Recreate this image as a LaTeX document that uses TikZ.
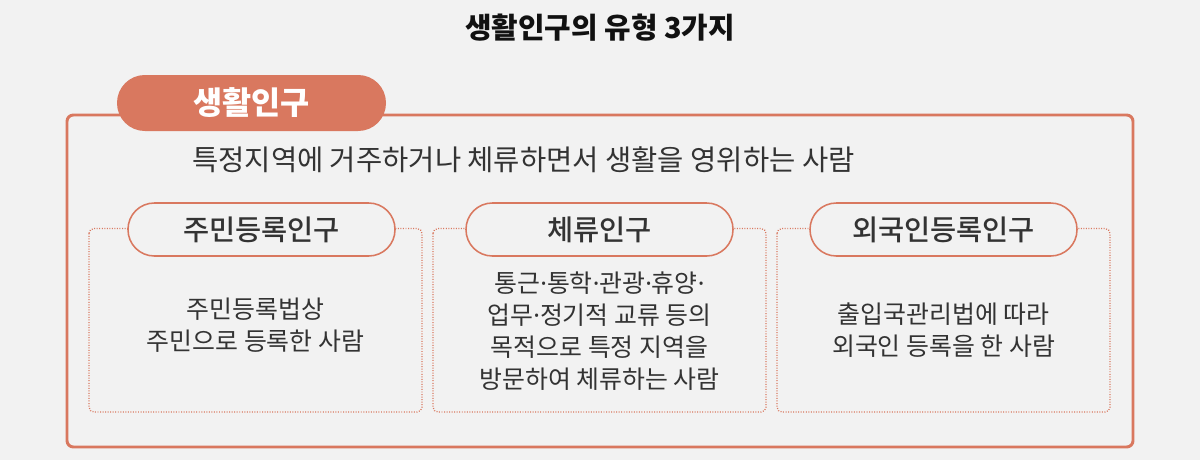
\documentclass[tikz,border=0pt]{standalone}
\usepackage{fontspec}
\setmainfont{Noto Sans CJK KR}
\newfontfamily\krmed{Noto Sans CJK KR Medium}
\newfontfamily\latin{Noto Sans}
\usepackage{xcolor}
\definecolor{lpcoral}{RGB}{217,120,95}
\definecolor{lpbg}{RGB}{242,242,242}
\definecolor{lptext}{RGB}{51,51,51}
\definecolor{lptitle}{RGB}{17,17,17}
\usetikzlibrary{positioning}
\newcommand{\md}{{\latin ·}}

\begin{document}
\begin{tikzpicture}[x=0.025cm, y=-0.025cm,
  tab/.style={fill=lpcoral, rounded corners=19.8pt, minimum width=269*0.025cm,
    minimum height=56*0.025cm, inner sep=0pt, text=white,
    font=\bfseries\fontsize{22.5}{22.5}\selectfont},
  pill/.style={draw=lpcoral, line width=1.1pt, fill=lpbg, rounded corners=18.7pt,
    minimum width=267*0.025cm, minimum height=53*0.025cm, inner sep=0pt,
    text=lptext, font=\krmed\fontsize{20.2}{20.2}\selectfont},
  dotbox/.style={draw=lpcoral, line width=0.9pt, dash pattern=on 0.7pt off 1.1pt,
    rounded corners=3.5pt},
  desc/.style={align=center, text=lptext, inner sep=0pt,
    font=\fontsize{17.7}{22.8}\selectfont}]

  % Canvas
  \useasboundingbox (0,0) rectangle (1200,460);
  \fill[lpbg] (0,0) rectangle (1200,460);

  % Title
  \node[font=\bfseries\fontsize{20.5}{20.5}\selectfont, text=lptitle] (title) at (600,28)
       {생활인구의 유형 3가지};

  % Outer frame
  \draw[lpcoral, line width=2.1pt, rounded corners=4.5pt] (67,115) rectangle (1133,447);
  \node[tab] (tab) at (251.5,103) {생활인구};
  \node[anchor=west, text=lptext, inner sep=0pt, font=\fontsize{20.3}{20.3}\selectfont]
       (def) at (192,160) {특정지역에 거주하거나 체류하면서 생활을 영위하는 사람};

  % Three types (frames)
  \draw[dotbox] (89,228.5) rectangle (422,412);
  \draw[dotbox] (433,228.5) rectangle (766,412);
  \draw[dotbox] (777,228.5) rectangle (1110,412);

  % Labels
  \node[pill] (resident) at (261.5,229.5) {주민등록인구};
  \node[pill] (stay)     at (599.5,229.5) {체류인구};
  \node[pill] (foreign)  at (943.5,229.5) {외국인등록인구};

  % Descriptions
  \node[desc] (resdesc) at (255.5,325) {주민등록법상\\주민으로 등록한 사람};
  \node[desc] (staydesc) at (599.5,331)
       {통근\md 통학\md 관광\md 휴양\md\\업무\md 정기적 교류 등의\\목적으로 특정 지역을\\방문하여 체류하는 사람};
  \node[desc] (fordesc) at (943.5,330) {출입국관리법에 따라\\외국인 등록을 한 사람};
\end{tikzpicture}
\end{document}
